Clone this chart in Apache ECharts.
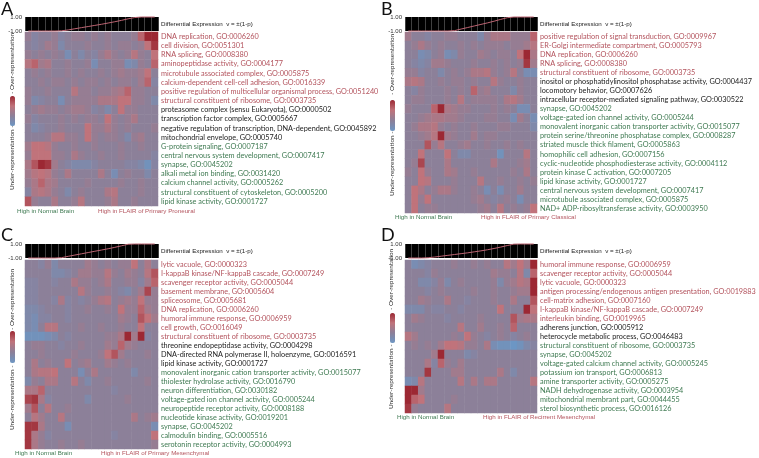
<!DOCTYPE html>
<html>
<head>
<meta charset="utf-8">
<style>html,body{margin:0;padding:0;background:#fff}#c{width:759px;height:458px}</style>
<script src="https://cdn.jsdelivr.net/npm/echarts@6/dist/echarts.min.js"></script>
</head>
<body>
<div id="c"></div>
<script>
// ---- Data ----
const columns = ['1','2','3','4','5','6','7','8','9','10','11','12','13','14','15','16','17','18','19','20'];

const termsA = ['DNA replication, GO:0006260','cell division, GO:0051301','RNA splicing, GO:0008380','aminopeptidase activity, GO:0004177','microtubule associated complex, GO:0005875','calcium-dependent cell-cell adhesion, GO:0016339','positive regulation of multicellular organismal process, GO:0051240','structural constituent of ribosome, GO:0003735','proteasome complex (sensu Eukaryota), GO:0000502','transcription factor complex, GO:0005667','negative regulation of transcription, DNA-dependent, GO:0045892','mitochondrial envelope, GO:0005740','G-protein signaling, GO:0007187','central nervous system development, GO:0007417','synapse, GO:0045202','alkali metal ion binding, GO:0031420','calcium channel activity, GO:0005262','structural constituent of cytoskeleton, GO:0005200','lipid kinase activity, GO:0001727'];
const termsB = ['positive regulation of signal transduction, GO:0009967','ER-Golgi intermediate compartment, GO:0005793','DNA replication, GO:0006260','RNA splicing, GO:0008380','structural constituent of ribosome, GO:0003735','inositol or phosphatidylinositol phosphatase activity, GO:0004437','locomotory behavior, GO:0007626','intracellular receptor-mediated signaling pathway, GO:0030522','synapse, GO:0045202','voltage-gated ion channel activity, GO:0005244','monovalent inorganic cation transporter activity, GO:0015077','protein serine/threonine phosphatase complex, GO:0008287','striated muscle thick filament, GO:0005863','homophilic cell adhesion, GO:0007156','cyclic-nucleotide phosphodiesterase activity, GO:0004112','protein kinase C activation, GO:0007205','lipid kinase activity, GO:0001727','central nervous system development, GO:0007417','microtubule associated complex, GO:0005875','NAD+ ADP-ribosyltransferase activity, GO:0003950'];
const termsC = ['lytic vacuole, GO:0000323','I-kappaB kinase/NF-kappaB cascade, GO:0007249','scavenger receptor activity, GO:0005044','basement membrane, GO:0005604','spliceosome, GO:0005681','DNA replication, GO:0006260','humoral immune response, GO:0006959','cell growth, GO:0016049','structural constituent of ribosome, GO:0003735','threonine endopeptidase activity, GO:0004298','DNA-directed RNA polymerase II, holoenzyme, GO:0016591','lipid kinase activity, GO:0001727','monovalent inorganic cation transporter activity, GO:0015077','thiolester hydrolase activity, GO:0016790','neuron differentiation, GO:0030182','voltage-gated ion channel activity, GO:0005244','neuropeptide receptor activity, GO:0008188','nucleotide kinase activity, GO:0019201','synapse, GO:0045202','calmodulin binding, GO:0005516','serotonin receptor activity, GO:0004993'];
const termsD = ['humoral immune response, GO:0006959','scavenger receptor activity, GO:0005044','lytic vacuole, GO:0000323','antigen processing/endogenous antigen presentation, GO:0019883','cell-matrix adhesion, GO:0007160','I-kappaB kinase/NF-kappaB cascade, GO:0007249','interleukin binding, GO:0019965','adherens junction, GO:0005912','heterocycle metabolic process, GO:0046483','structural constituent of ribosome, GO:0003735','synapse, GO:0045202','voltage-gated calcium channel activity, GO:0005245','potassium ion transport, GO:0006813','amine transporter activity, GO:0005275','NADH dehydrogenase activity, GO:0003954','mitochondrial membrant part, GO:0044455','sterol biosynthetic process, GO:0016126'];

// number of red / black terms; the rest are green
const redCountA = 8, blackCountA = 4;
const redCountB = 5, blackCountB = 3;
const redCountC = 9, blackCountC = 3;
const redCountD = 7, blackCountD = 2;

// per-column differential expression (top strips)
const diffA = [-1,-1,-1,-1,-1,-.97,-.85,-.68,-.52,-.36,-.2,-.04,.14,.32,.52,.74,.92,1,1,1];
const diffB = [-1,-1,-1,-1,-1,-1,-1,-.95,-.72,-.5,-.28,-.06,.16,.4,.66,.9,1,1,1,1];
const diffC = [-1,-1,-1,-1,-1,-.95,-.76,-.58,-.4,-.22,-.04,.14,.32,.52,.74,.96,1,1,1,1];
const diffD = [-1,-1,-1,-.96,-.86,-.74,-.62,-.5,-.38,-.26,-.12,.02,.18,.36,.56,.78,.98,1,1,1];

// enrichment score of each term (rows) in each column; blue < -1 < red, in tenths
const valuesA = [
[0,-2,-1,-1,0,-2,-1,0,0,-1,0,-1,0,-1,-1,-1,0,5,9,9],
[-1,-2,-1,1,0,-3,-1,-1,-1,0,-1,-1,0,-1,0,0,-1,0,4,8],
[0,-1,0,-1,0,-1,-4,-1,-3,-1,-2,0,2,0,-1,0,3,0,-1,4],
[3,5,1,2,-1,-1,0,-1,-1,0,-4,-1,-1,0,0,-4,-3,0,-1,5],
[-1,0,-1,0,-1,-1,0,-1,0,-1,-1,0,-1,0,1,0,0,1,4,-1],
[-1,-1,0,-1,0,0,-1,0,-1,0,0,-1,0,-1,0,0,-1,1,5,-2],
[0,-1,-1,0,-1,-1,-1,3,0,0,-1,0,0,1,2,5,0,0,-1,-1],
[0,-3,-2,-1,-1,-4,-1,0,0,0,0,2,2,2,4,4,0,0,-1,-3],
[-1,0,1,0,0,-1,0,1,1,0,-2,-1,-3,-1,4,0,0,-1,-1,-1],
[0,-2,-1,-1,-1,0,-1,0,-1,0,0,-1,4,0,-1,0,2,-1,-1,-1],
[-1,-3,-2,-1,-1,0,-1,-1,-1,4,0,0,2,0,-1,0,-1,-1,-1,0],
[-1,-1,-1,0,3,3,0,0,-1,4,0,-1,0,0,-1,-3,0,1,-1,-1],
[1,4,4,3,0,-1,-1,0,-1,-1,0,-1,-1,-1,0,-1,-1,0,-1,-1],
[0,4,4,4,0,0,-1,2,0,-1,-1,0,-1,-1,0,-1,-1,-1,-1,-2],
[2,6,9,8,1,-1,-2,-3,-3,-3,-2,-1,-1,-1,-1,-2,-2,-3,-5,-2],
[1,3,4,3,0,-1,2,-1,-1,-1,-1,2,-1,-4,-1,0,-1,-1,-3,-1],
[0,2,5,2,1,-1,-1,-1,-1,0,-1,-1,-1,-1,0,-1,-1,0,-1,-1],
[-2,2,3,2,0,-1,-3,-1,0,-1,-1,-1,2,3,-1,-1,-1,0,-1,-1],
[6,0,-1,-1,2,-1,-1,0,3,-1,-1,-1,0,2,-1,-1,0,-1,-1,-1]];

const valuesB = [
[1,-1,-1,-2,-1,-1,0,0,-1,-1,-1,-3,0,2,2,2,0,0,0,5],
[-1,0,2,0,-1,0,-1,-1,0,-1,0,-1,0,0,0,-1,0,0,1,3],
[-1,-1,-4,-3,-1,0,-4,-3,0,-1,-1,1,0,-1,0,0,-1,4,9,2],
[-1,-2,-3,-2,1,1,0,-1,-1,-1,0,-1,-1,0,-1,0,-1,0,8,1],
[0,0,-2,-1,-1,-3,-1,0,-1,0,2,2,3,0,-1,0,3,-1,-4,-4],
[2,3,2,-1,-1,0,-1,0,0,-1,0,-1,-1,3,0,-1,-1,0,-1,-1],
[-1,-2,0,-1,-1,-1,0,-1,0,-1,5,0,1,-1,-1,-1,-3,0,-1,-1],
[-1,0,0,-1,-1,-1,0,-1,3,-1,0,0,0,0,-1,2,3,1,-1,-1],
[0,-1,-1,-1,5,10,2,1,0,0,-1,-1,-1,0,-1,0,-1,-4,-4,-1],
[-1,-1,0,1,2,2,1,1,0,-1,-1,-1,0,0,-1,-1,-4,1,-1,-4],
[-1,0,2,2,3,0,-1,0,-1,-1,0,-1,-1,-1,0,0,-1,-1,-1,-3],
[-1,-1,0,1,3,9,1,0,-1,-1,1,-1,0,0,-1,-1,-1,-1,-1,-1],
[-1,-1,-1,6,0,3,-1,-1,0,1,-1,-1,0,-1,-1,0,-1,0,-1,-1],
[-1,-1,4,-1,-1,-1,4,-1,-3,-3,-1,-1,-1,-1,-5,-1,-1,-1,3,-1],
[-1,0,7,-1,-1,-1,2,-1,-1,-1,-1,-1,-1,2,-1,-1,-1,0,1,-1],
[0,-1,4,0,-1,-1,2,1,-1,-1,0,-1,-1,-1,-1,-1,0,-1,2,-1],
[-1,-1,4,3,-1,-1,-1,0,-1,-1,-1,3,-1,-1,0,-1,-1,0,-1,0],
[-1,4,2,-1,0,2,2,0,-1,-1,0,-1,-4,-1,-4,-1,-1,1,-1,-1],
[-1,4,0,4,-1,-1,-1,-1,-1,-1,0,1,-1,-2,-1,0,-1,-4,-1,-1],
[-1,4,-1,0,0,-1,-1,-1,-1,-1,-1,0,1,-1,3,-1,0,-1,0,4]];

const valuesC = [
[-1,-1,-2,0,-3,-1,-1,-1,-1,1,0,-1,0,-1,0,0,4,-1,2,-1],
[-1,-1,-1,-1,-3,-3,-2,-1,1,1,0,0,3,0,-1,1,0,-1,3,6],
[-2,-2,-1,-1,-2,-1,-1,2,0,0,-1,0,2,-1,-1,0,0,-2,1,5],
[-2,-2,-1,-1,-1,-1,-1,-1,3,0,-1,-1,0,-1,-2,-3,-1,1,7,0],
[-2,-2,-1,-1,-2,2,-2,-1,-2,-1,0,2,3,-1,0,1,0,4,0,0],
[-3,-3,-2,-1,-1,-1,-2,-1,-1,0,-1,-1,0,-1,4,0,0,5,1,0],
[-3,-4,-2,-2,-1,-1,-2,-1,-1,-1,-1,-1,-1,-1,1,0,-1,6,4,1],
[-3,-4,-1,3,3,-1,-1,-1,0,-1,-1,0,-1,-1,0,-1,-1,4,-1,-1],
[-5,-5,-5,-4,-3,-1,-2,-1,-1,-1,-1,-1,0,0,2,9,1,9,-2,-1],
[-1,0,0,-1,-1,-2,-1,-1,0,-1,-1,-1,1,0,5,1,0,-1,-1,-1],
[-1,-1,0,-1,-1,-1,-1,0,-1,-1,-1,0,4,6,1,-1,-1,-1,0,-1],
[-1,2,-1,0,-1,-1,4,-1,0,1,-1,-1,1,0,-1,0,-1,-1,-1,-1],
[-1,2,3,3,4,-1,-1,-1,-4,-1,2,-1,-1,-1,-1,-1,-3,-1,-1,-1],
[-3,0,-1,2,2,-1,-1,3,-1,-3,-1,-1,0,-1,-1,-1,-1,-1,0,-1],
[2,2,5,-1,-1,-1,-1,-1,-1,-1,-1,-1,-1,-2,-1,-1,-1,-1,-1,-1],
[7,8,2,-2,-1,-1,-1,-1,-1,-3,-1,-1,-1,-1,-1,0,-1,-1,-1,-1],
[1,6,-1,3,-1,-1,0,-1,-1,-1,-1,-1,-1,-1,-1,-1,-1,-1,-1,-1],
[-1,3,1,-1,-1,3,-1,-1,-1,-1,-1,-1,-1,-1,-1,-1,2,-1,0,1],
[8,8,2,-1,-1,-1,-4,-1,-1,-1,-1,-1,-1,-1,-1,-1,-1,-1,-1,-4],
[8,2,0,-2,-1,-1,-1,-1,-1,-1,-1,-1,-1,-2,-1,-1,-1,-1,-1,4],
[8,2,0,-1,-1,0,-1,-1,0,-1,-1,-1,-1,-1,-1,-1,-1,-1,-1,0]];

const valuesD = [
[-1,-4,-3,-2,-1,-1,-1,0,-1,-1,0,-1,0,-1,-1,3,1,4,1,9],
[-1,-1,-1,-2,0,-1,-1,-1,-1,-1,-1,-1,-1,1,0,0,-1,3,-3,5],
[-1,-1,-3,-3,-2,0,-3,-1,0,-1,-1,-1,-1,0,-3,0,1,3,2,9],
[-1,-1,-1,-2,-1,0,-1,-1,-1,-1,0,-1,-1,0,-1,-1,0,1,1,9],
[-1,-1,1,0,-1,-1,2,-1,-1,-2,-1,-1,-1,0,-1,-1,2,-1,-1,6],
[-3,-3,-3,-1,-2,-2,-1,-1,-2,-1,-1,-1,-1,-1,4,-1,-1,-1,9,4],
[-1,1,0,-1,-1,-1,-2,-1,-1,-1,-1,0,-1,-1,-1,-1,6,1,2,2],
[-1,-1,-1,-1,-1,-1,-1,-1,3,-1,-1,1,-1,-1,0,-1,5,-1,-1,-1],
[3,1,-1,-1,-1,-1,-1,0,-1,4,0,-1,-2,-1,0,-1,-2,-1,0,-1],
[-1,0,-1,0,-1,1,4,4,3,0,0,-1,2,-4,-5,-5,-6,-5,-3,-2],
[-1,-1,-1,-1,1,9,-1,-1,-1,-3,-2,-1,-1,-1,-1,-1,-1,-1,-1,-1],
[-1,-1,-1,2,-2,5,0,-1,1,-1,-1,-1,-1,-1,-1,-1,-1,-1,-1,-1],
[-1,-1,-1,8,-1,-1,-1,1,1,-1,-1,-1,-1,-1,2,-1,-3,-1,-1,-1],
[-4,-3,3,-1,-1,-1,-1,-1,3,-1,2,-1,2,2,-1,-1,-1,-1,-1,3],
[9,9,1,-1,-1,-1,-1,-1,-1,-1,-1,-1,-1,-1,-1,-1,-1,-1,-1,-1],
[9,5,4,-1,-1,-1,-1,0,-1,-1,-1,-1,-1,-1,-1,-1,-1,-1,-1,-1],
[8,0,-1,-1,-1,-1,3,-1,-1,-1,-1,-1,-1,-1,-1,-1,-1,-1,-1,-1]];

const lowLabel = 'High in Normal Brain';
const highLabelA = 'High in FLAIR of Primary Proneural';
const highLabelB = 'High in FLAIR of Primary Classical';
const highLabelC = 'High in FLAIR of Primary Mesenchymal';
const highLabelD = 'High in FLAIR of Recirrent Mesenchymal';
const stripTicks = [-1, 1];

// ---- Layout and styling ----
const RED = '#b3535d', BLACK = '#1c1c1c', GREEN = '#3f7a52', SANS = 'Lato', ARIAL = '"Liberation Sans"';
const panels = [
 {key:'A', terms:termsA, vals:valuesA, diff:diffA, red:redCountA, black:blackCountA, high:highLabelA,
  x:25, w:133, sy:17, sh:14, hy:32, hh:174, ly:2, lx:1, lowX:17, highX:98, botY:211,
  barX:10, barY:96, barH:30, rotX:12, overB:92, underB:190},
 {key:'B', terms:termsB, vals:valuesB, diff:diffB, red:redCountB, black:blackCountB, high:highLabelB,
  x:405, w:132, sy:17, sh:14, hy:32, hh:181, ly:2, lx:381, lowX:395, highX:481, botY:217,
  barX:390, barY:100, barH:31, rotX:392, overB:93, underB:196},
 {key:'C', terms:termsC, vals:valuesC, diff:diffC, red:redCountC, black:blackCountC, high:highLabelC,
  x:25, w:133, sy:244, sh:14, hy:260, hh:189, ly:228, lx:1, lowX:15, highX:101, botY:453,
  barX:10, barY:331, barH:32, rotX:12, overB:328, underB:430},
 {key:'D', terms:termsD, vals:valuesD, diff:diffD, red:redCountD, black:blackCountD, high:highLabelD,
  x:405, w:132, sy:244, sh:14, hy:260, hh:153, ly:228, lx:381, lowX:397, highX:483, botY:417,
  barX:390, barY:313, barH:30, rotX:391, overB:308, underB:409}
];

const grid = [], xAxis = [], yAxis = [], series = [], visualMap = [], graphic = [];
const txt = (text, x, y, size, fill, rot, font) => ({type:'text', x, y, rotation: rot||0, silent:true,
  style:{text, fill, font:`${size}px ${font||SANS}`, textVerticalAlign:'middle', textAlign:'left'}});

panels.forEach((p, i) => {
  const g1 = grid.length;
  grid.push({left:p.x, top:p.sy, width:p.w, height:p.sh, show:true, backgroundColor:'#000', borderWidth:0, outerBoundsMode:'none'});
  xAxis.push({gridIndex:g1, type:'category', data:columns, boundaryGap:true, axisLine:{show:false}, axisTick:{show:false},
    axisLabel:{show:false}, splitLine:{show:true, interval:0, lineStyle:{color:'#404040', width:1}}});
  yAxis.push({gridIndex:g1, type:'value', min:-1, max:1, splitLine:{show:false}, axisLine:{show:false}, axisTick:{show:false},
    axisLabel:{show:true, customValues:stripTicks, margin:3, fontSize:6, fontFamily:ARIAL, color:'#333', formatter:v=>v.toFixed(2)}});
  series.push({type:'line', xAxisIndex:g1, yAxisIndex:g1, data:p.diff, symbol:'none', silent:true,
    lineStyle:{color:'#bd6472', width:1}, animation:false, clip:false});

  const g2 = grid.length;
  grid.push({left:p.x, top:p.hy, width:p.w, height:p.hh, outerBoundsMode:'none'});
  xAxis.push({gridIndex:g2, type:'category', data:columns, axisLine:{show:false}, axisTick:{show:false}, axisLabel:{show:false}, splitLine:{show:false}});
  yAxis.push({gridIndex:g2, type:'category', data:p.terms, inverse:true, position:'right', axisLine:{show:false}, axisTick:{show:false}, splitLine:{show:false},
    axisLabel:{show:true, interval:0, margin:3, fontSize:7.3, fontFamily:SANS, align:'left',
      color:(v, idx) => idx < p.red ? RED : idx < p.red + p.black ? BLACK : GREEN}});
  const cells = [];
  p.vals.forEach((row, r) => row.forEach((v, c) => cells.push([c, r, v])));
  const si = series.length;
  series.push({type:'heatmap', xAxisIndex:g2, yAxisIndex:g2, data:cells, silent:true, animation:false, progressive:0,
    itemStyle:{borderWidth:0}});
  visualMap.push({type:'continuous', seriesIndex:si, min:-6, max:9, calculable:false, show:true, orient:'vertical',
    left:p.barX, top:p.barY, itemWidth:5, itemHeight:p.barH, text:['',''], showLabel:false, padding:0, hoverLink:false,
    inRange:{color:['#6c96c4','#8c8099','#c0737b','#9c2833']}});

  graphic.push(txt(p.key, p.lx, p.ly+7, 18, '#111'));
  graphic.push(txt('Differential Expression  v = \u00b1(1-p)', p.x+p.w+3, p.sy+7, 6.2, '#222', 0, ARIAL));
  graphic.push(txt(lowLabel, p.lowX, p.botY, 6.2, GREEN, 0, ARIAL));
  graphic.push(txt(p.high, p.highX, p.botY, 6.2, RED, 0, ARIAL));
  graphic.push(txt('- Over-representation', p.rotX, p.overB+2, 6.4, '#333', Math.PI/2));
  graphic.push(txt('Under-representation -', p.rotX, p.underB, 6.4, '#333', Math.PI/2));
});

const chart = echarts.init(document.getElementById('c'), null, {renderer:'canvas', width:759, height:458});
chart.setOption({animation:false, backgroundColor:'#fff', tooltip:{show:false}, grid, xAxis, yAxis, series, visualMap,
  graphic:{elements:graphic}});
</script>
</body>
</html>
